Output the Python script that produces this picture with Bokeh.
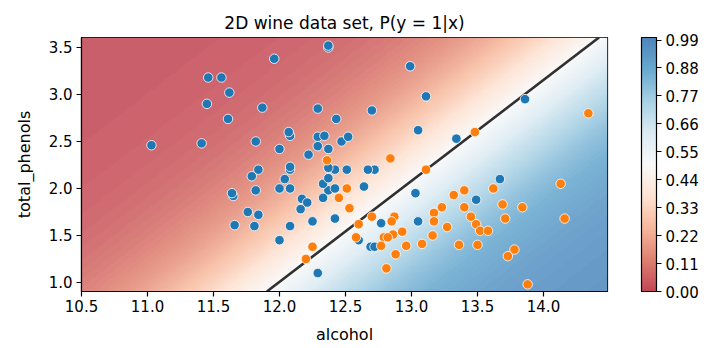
import numpy as np
from bokeh.plotting import figure
from bokeh.models import (LinearColorMapper, ColorBar, FixedTicker,
                          PrintfTickFormatter, Range1d)
from bokeh.embed import file_html
from bokeh.resources import INLINE

# ---------------- data ----------------
# class y = 0 (blue)
alcohol_0 = [12.37, 12.33, 12.64, 13.67, 12.37, 12.17, 12.37, 13.11, 12.37, 13.34,
             12.21, 12.29, 13.86, 13.49, 12.99, 11.96, 11.66, 13.03, 11.84, 12.33,
             12.70, 12.00, 12.72, 12.08, 13.05, 11.84, 12.67, 12.16, 11.65, 11.64,
             12.08, 12.08, 12.00, 12.69, 12.29, 11.62, 12.47, 11.81, 12.29, 12.37,
             12.29, 12.08, 12.60, 12.34, 11.82, 12.51, 12.42, 12.25, 12.72, 12.22,
             11.61, 11.46, 12.52, 11.76, 11.41, 12.08, 11.03, 11.82, 12.42, 12.77,
             12.00, 11.45, 11.56, 12.42, 13.05, 11.87, 12.07, 12.43, 11.79, 12.37,
             12.04]
phenols_0 = [1.98, 2.05, 2.02, 2.10, 3.50, 1.89, 2.42, 2.98, 2.11, 2.53,
             1.85, 1.10, 2.95, 1.88, 3.30, 3.38, 1.61, 1.95, 1.72, 1.90,
             2.83, 2.42, 2.20, 2.00, 1.65, 2.20, 2.20, 1.78, 1.92, 1.95,
             2.20, 1.60, 1.45, 1.38, 2.45, 3.02, 2.50, 1.60, 2.55, 3.52,
             2.85, 2.23, 1.45, 2.56, 2.50, 2.20, 1.68, 1.65, 1.38, 2.36,
             2.74, 3.18, 2.55, 1.75, 2.48, 2.56, 2.46, 1.98, 2.00, 1.63,
             2.00, 2.90, 3.18, 2.20, 2.62, 2.86, 2.60, 2.74, 2.13, 2.22,
             2.10]
# class y = 1 (orange)
alcohol_1 = [12.86, 12.88, 12.81, 12.70, 12.51, 12.60, 12.25, 12.53, 13.49, 12.84,
             12.93, 13.36, 13.52, 13.62, 12.25, 13.16, 13.88, 12.87, 13.32, 13.08,
             13.50, 12.79, 13.11, 13.23, 12.58, 13.17, 13.84, 12.45, 14.34, 13.48,
             12.36, 13.69, 12.85, 12.96, 13.78, 13.73, 13.45, 12.82, 13.58, 13.40,
             12.20, 12.77, 14.16, 13.71, 13.40, 13.27, 13.17, 14.13]
phenols_1 = [1.51, 1.30, 1.15, 1.70, 2.00, 1.62, 1.38, 1.79, 1.62, 2.32,
             1.54, 1.40, 1.55, 2.00, 1.38, 1.50, 0.98, 1.70, 1.93, 1.41,
             1.40, 1.48, 2.20, 1.80, 1.48, 1.74, 1.80, 1.90, 2.80, 2.60,
             2.30, 1.83, 1.65, 1.39, 1.35, 1.28, 1.70, 1.48, 1.55, 1.98,
             1.25, 1.39, 1.68, 1.68, 1.80, 1.59, 1.65, 2.05]

# logistic model P(y=1|x) = sigmoid(w_a*alcohol + w_p*phenols + b)
w_alcohol = 1.6
w_phenols = -1.49
intercept = -17.7

x_lo, x_hi = 10.5, 14.485
y_lo, y_hi = 0.904, 3.606
x_ticks = [10.5, 11.0, 11.5, 12.0, 12.5, 13.0, 13.5, 14.0]
y_ticks = [1.0, 1.5, 2.0, 2.5, 3.0, 3.5]
cbar_ticks = [0.00, 0.11, 0.22, 0.33, 0.44, 0.55, 0.66, 0.77, 0.88, 0.99]
n_levels = 100

FONT = "DejaVu Sans"

# ---------------- colour palettes (RdBu, faded) ----------------
rdbu = np.array([(103, 0, 31), (178, 24, 43), (214, 96, 77), (244, 165, 130),
                 (253, 219, 199), (247, 247, 247), (209, 229, 240), (146, 197, 222),
                 (67, 147, 195), (33, 102, 172), (5, 48, 97)], dtype=float)
anchor_pos = np.linspace(0, 1, len(rdbu))


def make_palette(alpha):
    pal = []
    for i in range(n_levels):
        t = 0.1 + 0.8 * (i + 0.5) / n_levels
        rgb = [np.interp(t, anchor_pos, rdbu[:, k]) for k in range(3)]
        rgb = [alpha * c + (1 - alpha) * 255 for c in rgb]
        pal.append("#%02x%02x%02x" % tuple(int(round(c)) for c in rgb))
    return pal


surface_mapper = LinearColorMapper(palette=make_palette(0.70), low=0.0, high=1.0)
bar_mapper = LinearColorMapper(palette=make_palette(0.80), low=0.0, high=1.0)

# probability surface
gx = np.linspace(x_lo, x_hi, 500)
gy = np.linspace(y_lo, y_hi, 300)
XX, YY = np.meshgrid(gx, gy)
PP = 1.0 / (1.0 + np.exp(-(w_alcohol * XX + w_phenols * YY + intercept)))

# ---------------- figure ----------------
p = figure(width=709, height=348, output_backend="svg", toolbar_location=None,
           x_range=Range1d(x_lo, x_hi), y_range=Range1d(y_lo, y_hi),
           min_border_left=81, min_border_right=102, min_border_top=37,
           min_border_bottom=57,
           title="2D wine data set, P(y = 1|x)")
p.title.align = "center"
p.title.text_font = FONT
p.title.text_font_size = "17px"
p.title.text_font_style = "normal"
p.title.text_color = "black"

p.image(image=[PP], x=x_lo, y=y_lo, dw=x_hi - x_lo, dh=y_hi - y_lo,
        color_mapper=surface_mapper)

# decision boundary P = 0.5
bx = [-(w_phenols * y_lo + intercept) / w_alcohol, -(w_phenols * y_hi + intercept) / w_alcohol]
by = [y_lo, y_hi]
p.line(bx, by, line_color="#303030", line_width=2.6)

p.scatter(alcohol_0, phenols_0, size=9.5, fill_color="#1f77b4", line_color="white",
          line_width=0.8)
p.scatter(alcohol_1, phenols_1, size=9.5, fill_color="#ff7f0e", line_color="white",
          line_width=0.8)

p.grid.visible = False
p.outline_line_color = "black"
p.outline_line_width = 1.2
p.background_fill_color = "white"

p.xaxis.ticker = FixedTicker(ticks=x_ticks)
p.yaxis.ticker = FixedTicker(ticks=y_ticks)
p.xaxis.formatter = PrintfTickFormatter(format="%.1f")
p.yaxis.formatter = PrintfTickFormatter(format="%.1f")
p.xaxis.axis_label = "alcohol"
p.yaxis.axis_label = "total_phenols"
for ax in (p.xaxis, p.yaxis):
    ax.axis_line_color = "black"
    ax.axis_line_width = 1.2
    ax.major_tick_line_color = "black"
    ax.major_tick_line_width = 1.2
    ax.major_tick_out = 5
    ax.major_tick_in = 0
    ax.minor_tick_line_color = None
    ax.major_label_text_font = FONT
    ax.major_label_text_font_size = "15px"
    ax.major_label_text_color = "black"
    ax.axis_label_text_font = FONT
    ax.axis_label_text_font_size = "16px"
    ax.axis_label_text_font_style = "normal"
    ax.axis_label_text_color = "black"
p.xaxis.major_label_standoff = 3
p.xaxis.axis_label_standoff = 10
p.yaxis.major_label_standoff = 4
p.yaxis.axis_label_standoff = 12

cbar = ColorBar(color_mapper=bar_mapper, ticker=FixedTicker(ticks=cbar_ticks),
                formatter=PrintfTickFormatter(format="%.2f"),
                location=(560, 0), width=15, height=254, margin=0, padding=0,
                bar_line_color="black", bar_line_width=1.2,
                border_line_color=None, background_fill_alpha=0,
                major_tick_line_color="black", major_tick_in=0, major_tick_out=5,
                major_tick_line_width=1.2, minor_tick_line_color=None,
                label_standoff=4, major_label_text_font=FONT,
                major_label_text_font_size="15px", major_label_text_color="black")
p.add_layout(cbar, "center")

open("out.html", "w").write(file_html(p, INLINE))
